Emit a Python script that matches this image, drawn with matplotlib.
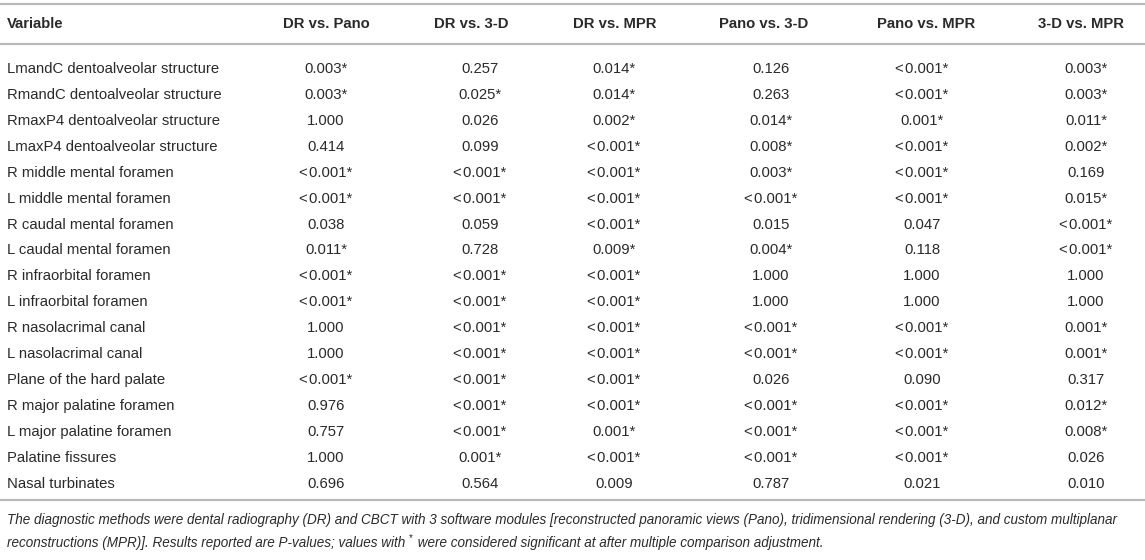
import matplotlib
matplotlib.use("Agg")
from matplotlib import pyplot as plt

variables = ["LmandC dentoalveolar structure", "RmandC dentoalveolar structure",
             "RmaxP4 dentoalveolar structure", "LmaxP4 dentoalveolar structure",
             "R middle mental foramen", "L middle mental foramen",
             "R caudal mental foramen", "L caudal mental foramen",
             "R infraorbital foramen", "L infraorbital foramen",
             "R nasolacrimal canal", "L nasolacrimal canal",
             "Plane of the hard palate", "R major palatine foramen",
             "L major palatine foramen", "Palatine fissures", "Nasal turbinates"]

headers = ["Variable", "DR vs. Pano", "DR vs. 3-D", "DR vs. MPR",
           "Pano vs. 3-D", "Pano vs. MPR", "3-D vs. MPR"]

L = "<\u200a0.001*"
dr_pano = ["0.003*", "0.003*", "1.000", "0.414", L, L, "0.038", "0.011*", L, L,
           "1.000", "1.000", L, "0.976", "0.757", "1.000", "0.696"]
dr_3d = ["0.257", "0.025*", "0.026", "0.099", L, L, "0.059", "0.728", L, L,
         L, L, L, L, L, "0.001*", "0.564"]
dr_mpr = ["0.014*", "0.014*", "0.002*", L, L, L, L, "0.009*", L, L,
          L, L, L, L, "0.001*", L, "0.009"]
pano_3d = ["0.126", "0.263", "0.014*", "0.008*", "0.003*", L, "0.015", "0.004*",
           "1.000", "1.000", L, L, "0.026", L, L, L, "0.787"]
pano_mpr = [L, L, "0.001*", L, L, L, "0.047", "0.118", "1.000", "1.000",
            L, L, "0.090", L, L, L, "0.021"]
d3_mpr = ["0.003*", "0.003*", "0.011*", "0.002*", "0.169", "0.015*", L, L,
          "1.000", "1.000", "0.001*", "0.001*", "0.317", "0.012*", "0.008*",
          "0.026", "0.010"]
columns = [dr_pano, dr_3d, dr_mpr, pano_3d, pano_mpr, d3_mpr]

note1 = ("The diagnostic methods were dental radiography (DR) and CBCT with 3 software modules "
         "[reconstructed panoramic views (Pano), tridimensional rendering (3-D), and custom multiplanar")
note2a = "reconstructions (MPR)]. Results reported are P-values; values with "
note2b = " were considered significant at after multiple comparison adjustment."

W, H = 1145, 560
fig = plt.figure(figsize=(W / 100, H / 100), dpi=100)
ax = fig.add_axes([0, 0, 1, 1])
ax.set_xlim(0, W)
ax.set_ylim(H, 0)
ax.axis("off")

font = ["Liberation Sans", "DejaVu Sans"]
txt = "#2a2a2a"
fs = 10.7
base = 5.2  # baseline offset below the row centre, px

head_x = [326, 471, 615, 764, 926, 1081]
val_x = [326, 480, 614, 771, 922, 1086]
head_y = 23
row_y0, row_dy = 68, 25.9

line_c = "#b8b8b8"
for yy in (4, 43.5, 499.5):
    ax.plot([0, W], [yy, yy], color=line_c, lw=1.6, solid_capstyle="butt")

ax.text(7, head_y + base, headers[0], ha="left", va="baseline", fontsize=fs,
        fontweight="bold", family=font, color=txt)
for hx, h in zip(head_x, headers[1:]):
    ax.text(hx, head_y + base, h, ha="center", va="baseline", fontsize=fs,
            fontweight="bold", family=font, color=txt)

for i, v in enumerate(variables):
    y = row_y0 + i * row_dy + base
    ax.text(7, y, v, ha="left", va="baseline", fontsize=fs, family=font, color=txt)
    for cx, col in zip(val_x, columns):
        ax.text(cx, y, col[i], ha="center", va="baseline", fontsize=fs,
                family=font, color=txt)

nfont = ["Liberation Sans", "DejaVu Sans"]
nfs = 9.75
ax.text(7, 520, note1, ha="left", va="center", fontsize=nfs, style="italic",
        family=nfont, color=txt)
t2 = ax.text(7, 543, note2a, ha="left", va="center", fontsize=nfs, style="italic",
             family=nfont, color=txt)
fig.canvas.draw()
r = fig.canvas.get_renderer()
bb = t2.get_window_extent(r)
x_end = ax.transData.inverted().transform((bb.x1, 0))[0]
ax.text(x_end, 538, "*", ha="left", va="center", fontsize=7, family=nfont, color=txt)
ax.text(x_end + 5, 543, note2b, ha="left", va="center", fontsize=nfs, style="italic",
        family=nfont, color=txt)

fig.savefig("out.png", dpi=100)
